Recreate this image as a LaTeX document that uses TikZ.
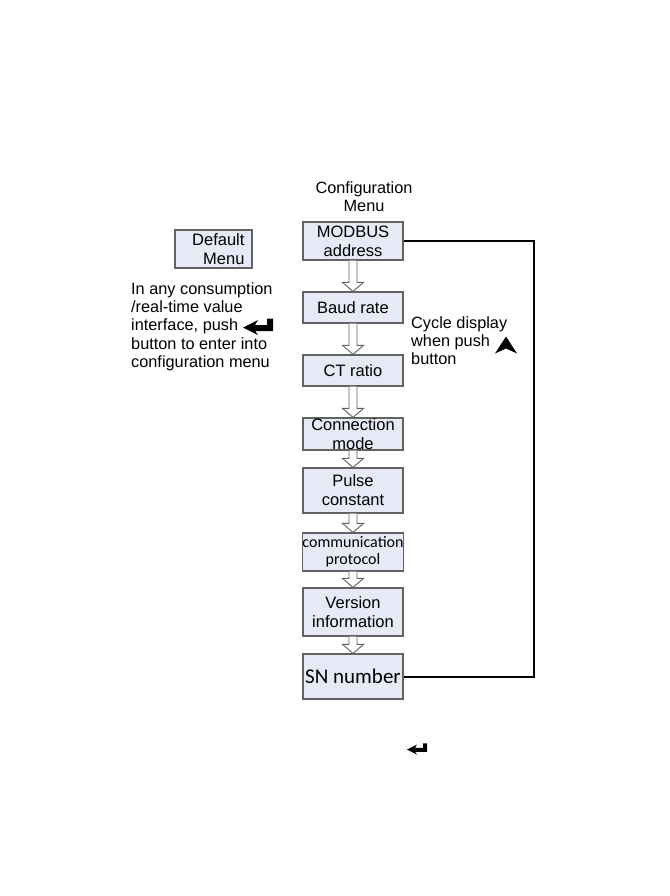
\documentclass[tikz,border=0pt]{standalone}
\usepackage{fontspec}
\setmainfont{Liberation Sans}
\newfontfamily\calfont{Carlito}
\usetikzlibrary{calc}
\definecolor{boxfill}{HTML}{E6EAF6}
\definecolor{boxline}{HTML}{626262}
\tikzset{
  menubox/.style={draw=boxline, fill=boxfill, line width=1.2pt, minimum width=100pt, inner sep=0pt, align=center,
    font=\fontsize{16.5}{19}\selectfont},
  hollow/.style={draw=boxline, fill=white, line width=0.9pt, line join=miter},
  plaintext/.style={inner sep=0pt, font=\fontsize{16.3}{18.3}\selectfont},
  loopline/.style={draw=black, line width=2pt},
  enterkey/.pic={\fill (0,0) -- (15,-7.5) -- (12,-2.5) -- (24,-2.5) -- (24,-9) -- (30,-9) -- (30,3.5) -- (12,3.5) -- (15,7.5) -- cycle;}
}
\newcommand\hollowarrow[2]{%
  \draw[hollow] let \p1=(#1.south), \p2=(#2.north) in
    (\x1-4pt,\y1) -- (\x1-4pt,\y2+9pt) -- (\x1-10.5pt,\y2+9pt) -- (\x1,\y2) -- (\x1+10.5pt,\y2+9pt) -- (\x1+4pt,\y2+9pt) -- (\x1+4pt,\y1);}
\begin{document}
\begin{tikzpicture}[x=1pt,y=-1pt]
\useasboundingbox (0,0) rectangle (669,896);
% title
\node[plaintext, align=center] (title) at (364,197) {Configuration\\Menu};
% default menu
\node[menubox, minimum width=77pt, minimum height=38pt, align=right, text width=62pt] (def) at (213.5,249) {Default\\Menu};
% chain of boxes
\node[menubox, minimum height=38pt] (mod) at (353,241) {MODBUS\\address};
\node[menubox, minimum height=31pt] (baud) at (353,307.5) {Baud rate};
\node[menubox, minimum height=31pt] (ct) at (353,370.5) {CT ratio};
\node[menubox, minimum height=32pt] (conn) at (353,434) {Connection\\mode};
\node[menubox, minimum height=45pt] (pulse) at (353,490.5) {Pulse\\constant};
\node[menubox, minimum height=38pt, font=\calfont\fontsize{16}{17}\selectfont] (comm) at (353,552) {communication\\protocol};
\node[menubox, minimum height=48pt] (ver) at (353,612) {Version\\information};
\node[menubox, minimum height=45pt, font=\calfont\fontsize{21}{22}\selectfont] (sn) at (353,676.5) {SN number};
% hollow arrows
\hollowarrow{mod}{baud}
\hollowarrow{baud}{ct}
\hollowarrow{ct}{conn}
\hollowarrow{conn}{pulse}
\hollowarrow{pulse}{comm}
\hollowarrow{comm}{ver}
\hollowarrow{ver}{sn}
% return loop
\coordinate (rc) at (534,0);
\draw[loopline] (mod.east) -- (mod.east -| rc) -- (sn.east -| rc) -- (sn.east);
% left text
\node[plaintext, align=left, anchor=west] (lefttext) at (131,326.5) {In any consumption\\/real-time value\\interface, push\\button to enter into\\configuration menu};
\pic at (243,327.5) {enterkey};
% right text
\node[plaintext, align=left, anchor=west] (cycletext) at (411,340.5) {Cycle display\\when push\\button};
\fill (495,353.5) -- (506,336.5) -- (517,353.5) -- (506,348.5) -- cycle;
% bottom enter symbol
\pic[scale=0.67] at (407,749.5) {enterkey};
\end{tikzpicture}
\end{document}
